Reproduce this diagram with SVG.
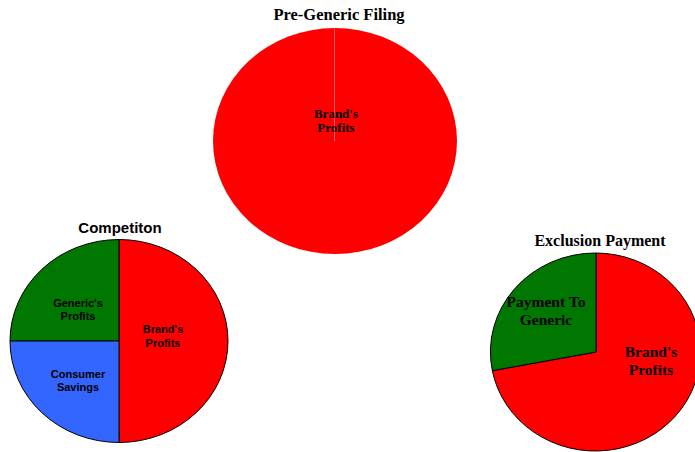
<svg xmlns="http://www.w3.org/2000/svg" width="695" height="452" viewBox="0 0 695 452">
<style>
.ser{font-family:"Liberation Serif","Times New Roman",serif;font-weight:bold;fill:#000;text-anchor:middle}
.san{font-family:"Liberation Sans",Arial,sans-serif;font-weight:bold;fill:#000;text-anchor:middle}
.sl{stroke:#000;stroke-width:1}
</style>
<rect width="695" height="452" fill="#fff"/>
<g id="pre-generic">
<text class="ser" x="339" y="20" font-size="16.5">Pre-Generic Filing</text>
<ellipse cx="335" cy="141" rx="122" ry="113" fill="#ff0000"/>
<line x1="334.5" y1="28" x2="334.5" y2="141" stroke="#ff9999" stroke-width="0.6"/>
<text class="ser" x="336" y="118" font-size="13">Brand's</text>
<text class="ser" x="336" y="132" font-size="13">Profits</text>
</g>
<g id="competition">
<text class="san" x="120" y="233" font-size="15">Competiton</text>
<path class="sl" d="M119 341 L119 239.5 A109 101.5 0 0 1 119 442.5 Z" fill="#ff0000"/>
<path class="sl" d="M119 341 L119 239.5 A109 101.5 0 0 0 10 341 Z" fill="#007700"/>
<path class="sl" d="M119 341 L10 341 A109 101.5 0 0 0 119 442.5 Z" fill="#3366ff"/>
<text class="san" x="78" y="307" font-size="11">Generic's</text>
<text class="san" x="78" y="320" font-size="11">Profits</text>
<text class="san" x="163" y="333" font-size="11">Brand's</text>
<text class="san" x="163" y="347" font-size="11">Profits</text>
<text class="san" x="78" y="378" font-size="11">Consumer</text>
<text class="san" x="78" y="391" font-size="11">Savings</text>
</g>
<g id="exclusion">
<text class="ser" x="600" y="246" font-size="16">Exclusion Payment</text>
<path class="sl" d="M596 352 L596 253 A105 99 0 1 1 492.3 370.7 Z" fill="#ff0000"/>
<path class="sl" d="M596 352 L596 253 A105 99 0 0 0 492.3 370.7 Z" fill="#007700"/>
<text class="ser" x="546" y="307" font-size="15.5">Payment To</text>
<text class="ser" x="546" y="325" font-size="15.5">Generic</text>
<text class="ser" x="651" y="357" font-size="15.5">Brand's</text>
<text class="ser" x="651" y="375" font-size="15.5">Profits</text>
</g>
<g id="connectors"></g>
</svg>
